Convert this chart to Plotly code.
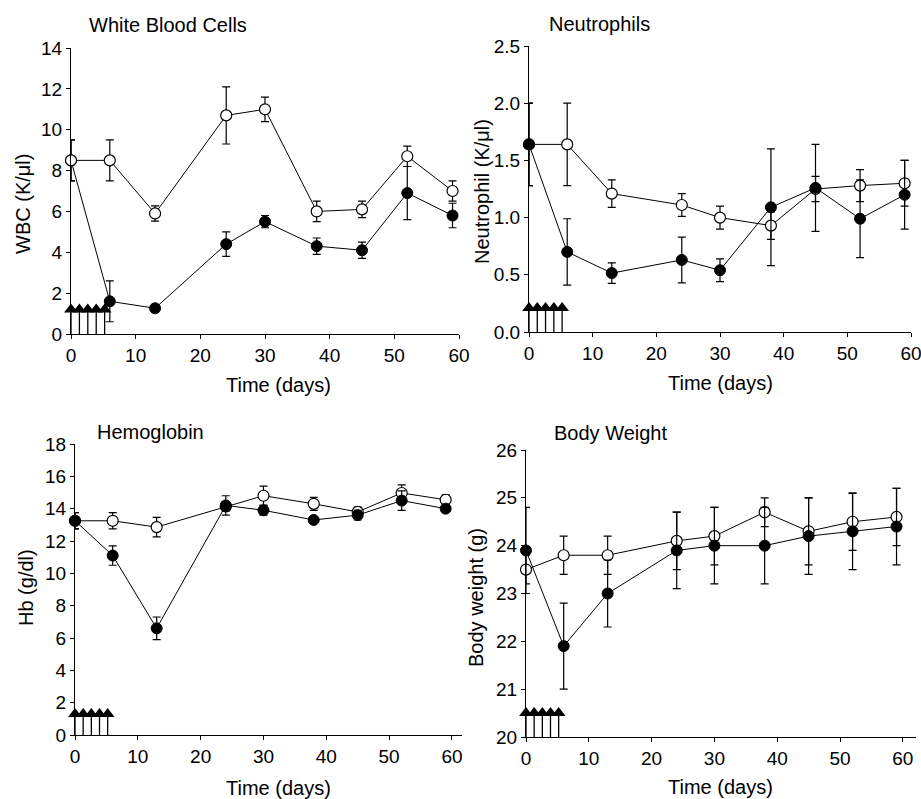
import plotly.graph_objects as go

# ---------------- data ----------------
days = [0, 6, 13, 24, 30, 38, 45, 52, 59]
dose_days = [0, 1.3, 2.6, 3.9, 5.2]

wbc_open = [8.5, 8.5, 5.9, 10.7, 11.0, 6.0, 6.1, 8.7, 7.0]
wbc_open_err = [1.0, 1.0, 0.37, 1.4, 0.6, 0.5, 0.4, 0.5, 0.5]
wbc_fill = [8.5, 1.6, 1.26, 4.4, 5.5, 4.3, 4.1, 6.9, 5.8]
wbc_fill_err = [1.0, 1.0, 0.1, 0.6, 0.3, 0.4, 0.4, 1.3, 0.6]

neu_open = [1.64, 1.64, 1.21, 1.11, 1.0, 0.93, 1.25, 1.28, 1.30]
neu_open_err = [0.36, 0.36, 0.12, 0.1, 0.1, 0.12, 0.11, 0.14, 0.2]
neu_fill = [1.64, 0.70, 0.515, 0.63, 0.54, 1.09, 1.26, 0.99, 1.2]
neu_fill_err = [0.36, 0.29, 0.09, 0.2, 0.1, 0.51, 0.38, 0.34, 0.3]

hb_open = [13.25, 13.25, 12.86, 14.14, 14.8, 14.3, 13.8, 14.97, 14.55]
hb_open_err = [0.5, 0.5, 0.6, 0.3, 0.6, 0.4, 0.3, 0.5, 0.3]
hb_fill = [13.25, 11.1, 6.6, 14.2, 13.9, 13.3, 13.6, 14.5, 14.0]
hb_fill_err = [0.5, 0.6, 0.7, 0.6, 0.3, 0.15, 0.3, 0.6, 0.15]

bw_open = [23.5, 23.8, 23.8, 24.1, 24.2, 24.7, 24.3, 24.5, 24.6]
bw_open_err = [0.3, 0.4, 0.4, 0.6, 0.6, 0.3, 0.7, 0.6, 0.6]
bw_fill = [23.9, 21.9, 23.0, 23.9, 24.0, 24.0, 24.2, 24.3, 24.4]
bw_fill_err = [0.9, 0.9, 0.7, 0.8, 0.8, 0.8, 0.8, 0.8, 0.8]

panel_titles = ["White Blood Cells", "Neutrophils", "Hemoglobin", "Body Weight"]
y_titles = ["WBC (K/\u03bcl)", "Neutrophil (K/\u03bcl)", "Hb (g/dl)", "Body weight (g)"]
x_title = "Time (days)"

y_ranges = [[0, 14], [0, 2.5], [0, 18], [20, 26]]
y_dticks = [2, 0.5, 2, 1]
x_ranges = [[0, 60], [0, 60], [0, 61.6], [0, 62.1]]
dose_levels = [1.2, 0.21, 1.3, 20.5]

# ---------------- layout geometry (pixels) ----------------
W, H = 921, 799
FONT = "Liberation Sans, Arial, sans-serif"
# (left, right, top, bottom) pixel boxes of each plot area
boxes = [(71, 459, 48, 334), (529, 911, 46, 332), (75, 462, 444, 735), (526, 916, 450, 737)]

fig = go.Figure()

def px(x):
    return x / W

def py(y):
    return 1 - y / H

series = [
    (wbc_open, wbc_open_err, wbc_fill, wbc_fill_err, True),
    (neu_open, neu_open_err, neu_fill, neu_fill_err, False),
    (hb_open, hb_open_err, hb_fill, hb_fill_err, False),
    (bw_open, bw_open_err, bw_fill, bw_fill_err, False),
]

for i, (o, oe, f, fe, open_on_top) in enumerate(series):
    xa = "x" if i == 0 else f"x{i+1}"
    ya = "y" if i == 0 else f"y{i+1}"
    base = y_ranges[i][0]
    lvl = dose_levels[i]
    # dose markers: triangles with vertical lines down to the baseline
    fig.add_trace(go.Scatter(
        x=dose_days, y=[lvl] * len(dose_days), mode="markers",
        marker=dict(symbol="triangle-up", size=12, color="black"),
        error_y=dict(type="data", symmetric=False, array=[0] * len(dose_days),
                     arrayminus=[lvl - base] * len(dose_days), width=0,
                     thickness=1.3, color="black"),
        xaxis=xa, yaxis=ya, showlegend=False, cliponaxis=False, hoverinfo="skip"))
    open_tr = go.Scatter(
        x=days, y=o, mode="lines+markers",
        line=dict(color="black", width=1),
        marker=dict(symbol="circle", size=11, color="white", line=dict(color="black", width=1.2)),
        error_y=dict(type="data", array=oe, width=4, thickness=1.2, color="black"),
        xaxis=xa, yaxis=ya, showlegend=False, cliponaxis=False)
    fill_tr = go.Scatter(
        x=days, y=f, mode="lines+markers",
        line=dict(color="black", width=1),
        marker=dict(symbol="circle", size=11, color="black", line=dict(color="black", width=1)),
        error_y=dict(type="data", array=fe, width=4, thickness=1.2, color="black"),
        xaxis=xa, yaxis=ya, showlegend=False, cliponaxis=False)
    if open_on_top:
        fig.add_trace(fill_tr)
        fig.add_trace(open_tr)
    else:
        fig.add_trace(open_tr)
        fig.add_trace(fill_tr)

    l, r, t, b = boxes[i]
    axis_common = dict(showline=True, linecolor="black", linewidth=1, showgrid=False,
                       zeroline=False, ticks="outside", ticklen=4, tickwidth=1,
                       tickcolor="black", automargin=False, ticklabeloverflow="allow",
                       tickfont=dict(family=FONT, size=19, color="black"))
    xkey = "xaxis" if i == 0 else f"xaxis{i+1}"
    ykey = "yaxis" if i == 0 else f"yaxis{i+1}"
    fig.update_layout(**{
        xkey: dict(domain=[px(l), px(r)], range=x_ranges[i], tickmode="array",
                   tickvals=[0, 10, 20, 30, 40, 50, 60], anchor=ya, **axis_common),
        ykey: dict(domain=[py(b), py(t)], range=y_ranges[i], dtick=y_dticks[i],
                   tickformat=".1f" if i == 1 else "d", anchor=xa, **axis_common),
    })

# text annotations
title_pos = [(87, 25), (547, 24), (95, 432), (552, 433)]
ytitle_pos = [(23, 204), (482, 192), (26, 588), (476, 598)]
xtitle_pos = [(278, 385), (720, 383), (278, 788), (720, 787)]
ann = []
for i in range(4):
    ann.append(dict(text=panel_titles[i], x=px(title_pos[i][0]), y=py(title_pos[i][1]),
                    xref="paper", yref="paper", xanchor="left", yanchor="middle",
                    showarrow=False, font=dict(family=FONT, size=20, color="black")))
    ann.append(dict(text=y_titles[i], x=px(ytitle_pos[i][0]), y=py(ytitle_pos[i][1]),
                    xref="paper", yref="paper", xanchor="center", yanchor="middle",
                    textangle=-90, showarrow=False, font=dict(family=FONT, size=20, color="black")))
    ann.append(dict(text=x_title, x=px(xtitle_pos[i][0]), y=py(xtitle_pos[i][1]),
                    xref="paper", yref="paper", xanchor="center", yanchor="middle",
                    showarrow=False, font=dict(family=FONT, size=20, color="black")))

fig.update_layout(template="none", width=W, height=H, margin=dict(l=0, r=0, t=0, b=0),
                  paper_bgcolor="white", plot_bgcolor="white", annotations=ann,
                  font=dict(family=FONT, color="black"))

fig.write_html("out.html", config={"displayModeBar": False},
               post_script="document.body.style.margin='0px';document.body.style.overflow='hidden';")
